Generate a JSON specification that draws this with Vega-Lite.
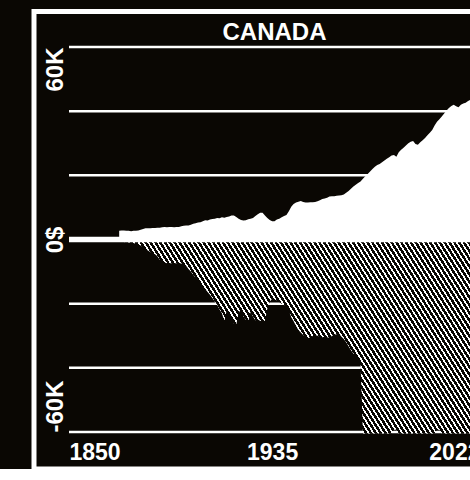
{
  "$schema": "https://vega.github.io/schema/vega-lite/v6.json",
  "autosize": "none",
  "padding": {"left": 34, "top": 11.5, "right": 0, "bottom": 0},
  "width": 481,
  "height": 457.5,
  "background": "#0a0703",
  "title": {"text": "CANADA", "anchor": "middle", "frame": "group", "offset": -28, "dy": 24, "baseline": "alphabetic", "color": "white", "font": "Liberation Sans", "fontSize": 24, "fontWeight": "bold"},
  "config": {"view": {"stroke": "white", "strokeWidth": 5, "fill": "#0a0703"}},
  "datasets": {
    "grid": [{"v": 60000}, {"v": 40000}, {"v": 20000}, {"v": -20000}, {"v": -40000}, {"v": -60000}],
    "series": [
      {"year": 1871, "pos": 2700, "neg": -800},
      {"year": 1872, "pos": 2800, "neg": -800},
      {"year": 1873, "pos": 2800, "neg": -800},
      {"year": 1874, "pos": 2700, "neg": -900},
      {"year": 1875, "pos": 2700, "neg": -900},
      {"year": 1876, "pos": 2600, "neg": -1000},
      {"year": 1877, "pos": 2700, "neg": -1100},
      {"year": 1878, "pos": 2700, "neg": -1400},
      {"year": 1879, "pos": 2800, "neg": -1600},
      {"year": 1880, "pos": 3000, "neg": -1900},
      {"year": 1881, "pos": 3300, "neg": -2400},
      {"year": 1882, "pos": 3500, "neg": -2900},
      {"year": 1883, "pos": 3500, "neg": -3400},
      {"year": 1884, "pos": 3500, "neg": -3900},
      {"year": 1885, "pos": 3600, "neg": -4300},
      {"year": 1886, "pos": 3600, "neg": -4600},
      {"year": 1887, "pos": 3700, "neg": -5200},
      {"year": 1888, "pos": 3700, "neg": -6300},
      {"year": 1889, "pos": 3800, "neg": -6900},
      {"year": 1890, "pos": 3900, "neg": -7200},
      {"year": 1891, "pos": 3800, "neg": -7400},
      {"year": 1892, "pos": 3900, "neg": -7400},
      {"year": 1893, "pos": 3900, "neg": -7400},
      {"year": 1894, "pos": 3800, "neg": -7400},
      {"year": 1895, "pos": 3900, "neg": -7400},
      {"year": 1896, "pos": 3900, "neg": -7400},
      {"year": 1897, "pos": 4100, "neg": -7500},
      {"year": 1898, "pos": 4300, "neg": -7600},
      {"year": 1899, "pos": 4400, "neg": -8200},
      {"year": 1900, "pos": 4400, "neg": -9200},
      {"year": 1901, "pos": 4600, "neg": -10000},
      {"year": 1902, "pos": 4900, "neg": -11000},
      {"year": 1903, "pos": 5100, "neg": -11900},
      {"year": 1904, "pos": 5300, "neg": -12800},
      {"year": 1905, "pos": 5400, "neg": -13700},
      {"year": 1906, "pos": 5700, "neg": -14500},
      {"year": 1907, "pos": 6000, "neg": -15400},
      {"year": 1908, "pos": 5900, "neg": -16400},
      {"year": 1909, "pos": 6200, "neg": -17200},
      {"year": 1910, "pos": 6400, "neg": -18200},
      {"year": 1911, "pos": 6500, "neg": -19300},
      {"year": 1912, "pos": 6700, "neg": -20300},
      {"year": 1913, "pos": 6600, "neg": -21800},
      {"year": 1914, "pos": 6900, "neg": -23000},
      {"year": 1915, "pos": 6800, "neg": -25500},
      {"year": 1916, "pos": 7000, "neg": -22000},
      {"year": 1917, "pos": 7200, "neg": -23500},
      {"year": 1918, "pos": 7500, "neg": -24500},
      {"year": 1919, "pos": 7500, "neg": -26200},
      {"year": 1920, "pos": 7000, "neg": -26600},
      {"year": 1921, "pos": 6500, "neg": -23000},
      {"year": 1922, "pos": 6100, "neg": -21500},
      {"year": 1923, "pos": 5900, "neg": -24000},
      {"year": 1924, "pos": 6000, "neg": -25000},
      {"year": 1925, "pos": 6300, "neg": -25600},
      {"year": 1926, "pos": 6500, "neg": -22500},
      {"year": 1927, "pos": 6700, "neg": -24000},
      {"year": 1928, "pos": 7300, "neg": -25200},
      {"year": 1929, "pos": 7900, "neg": -25000},
      {"year": 1930, "pos": 8300, "neg": -25300},
      {"year": 1931, "pos": 8300, "neg": -25600},
      {"year": 1932, "pos": 7500, "neg": -25300},
      {"year": 1933, "pos": 6700, "neg": -21500},
      {"year": 1934, "pos": 6100, "neg": -19400},
      {"year": 1935, "pos": 5700, "neg": -18500},
      {"year": 1936, "pos": 5700, "neg": -18800},
      {"year": 1937, "pos": 6200, "neg": -18900},
      {"year": 1938, "pos": 6500, "neg": -19500},
      {"year": 1939, "pos": 6900, "neg": -20000},
      {"year": 1940, "pos": 7300, "neg": -20400},
      {"year": 1941, "pos": 7600, "neg": -20600},
      {"year": 1942, "pos": 8800, "neg": -22000},
      {"year": 1943, "pos": 10200, "neg": -24200},
      {"year": 1944, "pos": 11100, "neg": -25500},
      {"year": 1945, "pos": 11500, "neg": -27000},
      {"year": 1946, "pos": 11800, "neg": -28200},
      {"year": 1947, "pos": 12000, "neg": -29000},
      {"year": 1948, "pos": 11700, "neg": -29800},
      {"year": 1949, "pos": 11500, "neg": -30300},
      {"year": 1950, "pos": 11500, "neg": -30800},
      {"year": 1951, "pos": 11600, "neg": -30500},
      {"year": 1952, "pos": 11600, "neg": -30100},
      {"year": 1953, "pos": 11700, "neg": -29800},
      {"year": 1954, "pos": 11900, "neg": -30000},
      {"year": 1955, "pos": 12200, "neg": -30300},
      {"year": 1956, "pos": 12600, "neg": -30500},
      {"year": 1957, "pos": 12800, "neg": -30300},
      {"year": 1958, "pos": 13000, "neg": -30500},
      {"year": 1959, "pos": 13400, "neg": -30600},
      {"year": 1960, "pos": 13500, "neg": -30100},
      {"year": 1961, "pos": 13500, "neg": -29700},
      {"year": 1962, "pos": 13600, "neg": -29500},
      {"year": 1963, "pos": 13700, "neg": -29300},
      {"year": 1964, "pos": 13800, "neg": -30300},
      {"year": 1965, "pos": 14000, "neg": -31000},
      {"year": 1966, "pos": 14600, "neg": -32000},
      {"year": 1967, "pos": 15100, "neg": -33300},
      {"year": 1968, "pos": 15800, "neg": -34500},
      {"year": 1969, "pos": 16500, "neg": -35500},
      {"year": 1970, "pos": 17100, "neg": -36200},
      {"year": 1971, "pos": 17600, "neg": -37200},
      {"year": 1972, "pos": 18100, "neg": -38300},
      {"year": 1973, "pos": 18900, "neg": -60500},
      {"year": 1974, "pos": 19700, "neg": -60500},
      {"year": 1975, "pos": 20400, "neg": -60500},
      {"year": 1976, "pos": 21200, "neg": -60500},
      {"year": 1977, "pos": 22000, "neg": -60500},
      {"year": 1978, "pos": 22700, "neg": -60500},
      {"year": 1979, "pos": 23200, "neg": -60500},
      {"year": 1980, "pos": 23500, "neg": -60500},
      {"year": 1981, "pos": 24100, "neg": -60500},
      {"year": 1982, "pos": 24600, "neg": -60500},
      {"year": 1983, "pos": 25200, "neg": -60500},
      {"year": 1984, "pos": 25600, "neg": -60500},
      {"year": 1985, "pos": 26200, "neg": -60500},
      {"year": 1986, "pos": 26300, "neg": -59300},
      {"year": 1987, "pos": 25800, "neg": -59300},
      {"year": 1988, "pos": 27200, "neg": -60500},
      {"year": 1989, "pos": 28000, "neg": -60500},
      {"year": 1990, "pos": 28600, "neg": -60500},
      {"year": 1991, "pos": 29300, "neg": -60500},
      {"year": 1992, "pos": 30000, "neg": -60500},
      {"year": 1993, "pos": 30500, "neg": -60500},
      {"year": 1994, "pos": 30700, "neg": -60500},
      {"year": 1995, "pos": 29800, "neg": -60500},
      {"year": 1996, "pos": 29500, "neg": -60500},
      {"year": 1997, "pos": 30300, "neg": -60500},
      {"year": 1998, "pos": 30900, "neg": -60500},
      {"year": 1999, "pos": 31600, "neg": -60500},
      {"year": 2000, "pos": 32500, "neg": -60500},
      {"year": 2001, "pos": 33300, "neg": -60500},
      {"year": 2002, "pos": 34100, "neg": -60500},
      {"year": 2003, "pos": 35500, "neg": -60500},
      {"year": 2004, "pos": 36700, "neg": -59300},
      {"year": 2005, "pos": 37500, "neg": -59300},
      {"year": 2006, "pos": 38300, "neg": -60500},
      {"year": 2007, "pos": 39300, "neg": -60500},
      {"year": 2008, "pos": 40200, "neg": -60500},
      {"year": 2009, "pos": 41000, "neg": -60500},
      {"year": 2010, "pos": 41600, "neg": -60500},
      {"year": 2011, "pos": 42000, "neg": -60500},
      {"year": 2012, "pos": 41500, "neg": -60500},
      {"year": 2013, "pos": 41200, "neg": -60500},
      {"year": 2014, "pos": 42000, "neg": -60500},
      {"year": 2015, "pos": 42400, "neg": -60500},
      {"year": 2016, "pos": 42600, "neg": -60500},
      {"year": 2017, "pos": 43200, "neg": -60500},
      {"year": 2018, "pos": 43500, "neg": -60500},
      {"year": 2019, "pos": 44000, "neg": -60500},
      {"year": 2020, "pos": 42000, "neg": -60500},
      {"year": 2021, "pos": 44500, "neg": -60500},
      {"year": 2022, "pos": 46000, "neg": -60500}
    ]
  },
  "encoding": {
    "x": {
      "type": "quantitative",
      "scale": {"domain": [1835.353, 2036.647], "nice": false, "zero": false},
      "axis": {
        "title": null, "orient": "bottom", "domain": false, "ticks": false, "tickSize": 0, "grid": false,
        "values": [1850, 1935, 2022], "format": "d",
        "labelAlign": {"expr": "datum.value == 1850 ? 'left' : (datum.value == 2022 ? 'right' : 'center')"},
        "labelBaseline": "alphabetic", "labelPadding": -9.7, "labelFlush": false, "labelOverlap": false,
        "labelColor": "white", "labelFont": "Liberation Sans", "labelFontSize": 23, "labelFontWeight": "bold"
      }
    },
    "y": {
      "type": "quantitative",
      "scale": {"domain": [-71533, 71065], "nice": false, "zero": false},
      "axis": {
        "title": null, "orient": "left", "domain": false, "ticks": false, "tickSize": 0, "grid": false,
        "values": [-60000, 0, 60000],
        "labelExpr": "datum.value == 0 ? '0$' : (datum.value > 0 ? '60K' : '-60K')",
        "labelAngle": 270,
        "labelAlign": {"expr": "datum.value > 0 ? 'right' : (datum.value < 0 ? 'left' : 'center')"},
        "labelBaseline": "alphabetic", "labelPadding": -28.3, "labelOverlap": false, "labelFlush": false,
        "labelColor": "white", "labelFont": "Liberation Sans", "labelFontSize": 24, "labelFontWeight": "bold"
      }
    }
  },
  "layer": [
    {
      "data": {"name": "grid"},
      "mark": {"type": "rule", "color": "white", "strokeWidth": 2.5},
      "encoding": {"x": {"datum": 1850}, "x2": {"datum": 2022}, "y": {"field": "v"}}
    },
    {
      "data": {"name": "series"},
      "mark": {"type": "area", "color": "white", "interpolate": "linear"},
      "encoding": {"x": {"field": "year"}, "y": {"field": "pos"}, "y2": {"datum": 0}}
    },
    {
      "data": {"name": "series"},
      "mark": {"type": "area", "interpolate": "linear", "stroke": null, "fill": {"gradient": "linear", "x1": 0, "y1": 1, "x2": 1.2005, "y2": 0.59637, "stops": [
        {"offset":0,"color":"#0a0703"},{"offset":0.006,"color":"#0a0703"},{"offset":0.006,"color":"#fff"},{"offset":0.01,"color":"#fff"},
        {"offset":0.01,"color":"#0a0703"},{"offset":0.016,"color":"#0a0703"},{"offset":0.016,"color":"#fff"},{"offset":0.02,"color":"#fff"},
        {"offset":0.02,"color":"#0a0703"},{"offset":0.026,"color":"#0a0703"},{"offset":0.026,"color":"#fff"},{"offset":0.03,"color":"#fff"},
        {"offset":0.03,"color":"#0a0703"},{"offset":0.036,"color":"#0a0703"},{"offset":0.036,"color":"#fff"},{"offset":0.04,"color":"#fff"},
        {"offset":0.04,"color":"#0a0703"},{"offset":0.046,"color":"#0a0703"},{"offset":0.046,"color":"#fff"},{"offset":0.05,"color":"#fff"},
        {"offset":0.05,"color":"#0a0703"},{"offset":0.056,"color":"#0a0703"},{"offset":0.056,"color":"#fff"},{"offset":0.06,"color":"#fff"},
        {"offset":0.06,"color":"#0a0703"},{"offset":0.066,"color":"#0a0703"},{"offset":0.066,"color":"#fff"},{"offset":0.07,"color":"#fff"},
        {"offset":0.07,"color":"#0a0703"},{"offset":0.076,"color":"#0a0703"},{"offset":0.076,"color":"#fff"},{"offset":0.08,"color":"#fff"},
        {"offset":0.08,"color":"#0a0703"},{"offset":0.086,"color":"#0a0703"},{"offset":0.086,"color":"#fff"},{"offset":0.09,"color":"#fff"},
        {"offset":0.09,"color":"#0a0703"},{"offset":0.096,"color":"#0a0703"},{"offset":0.096,"color":"#fff"},{"offset":0.10,"color":"#fff"},
        {"offset":0.10,"color":"#0a0703"},{"offset":0.106,"color":"#0a0703"},{"offset":0.106,"color":"#fff"},{"offset":0.11,"color":"#fff"},
        {"offset":0.11,"color":"#0a0703"},{"offset":0.116,"color":"#0a0703"},{"offset":0.116,"color":"#fff"},{"offset":0.12,"color":"#fff"},
        {"offset":0.12,"color":"#0a0703"},{"offset":0.126,"color":"#0a0703"},{"offset":0.126,"color":"#fff"},{"offset":0.13,"color":"#fff"},
        {"offset":0.13,"color":"#0a0703"},{"offset":0.136,"color":"#0a0703"},{"offset":0.136,"color":"#fff"},{"offset":0.14,"color":"#fff"},
        {"offset":0.14,"color":"#0a0703"},{"offset":0.146,"color":"#0a0703"},{"offset":0.146,"color":"#fff"},{"offset":0.15,"color":"#fff"},
        {"offset":0.15,"color":"#0a0703"},{"offset":0.156,"color":"#0a0703"},{"offset":0.156,"color":"#fff"},{"offset":0.16,"color":"#fff"},
        {"offset":0.16,"color":"#0a0703"},{"offset":0.166,"color":"#0a0703"},{"offset":0.166,"color":"#fff"},{"offset":0.17,"color":"#fff"},
        {"offset":0.17,"color":"#0a0703"},{"offset":0.176,"color":"#0a0703"},{"offset":0.176,"color":"#fff"},{"offset":0.18,"color":"#fff"},
        {"offset":0.18,"color":"#0a0703"},{"offset":0.186,"color":"#0a0703"},{"offset":0.186,"color":"#fff"},{"offset":0.19,"color":"#fff"},
        {"offset":0.19,"color":"#0a0703"},{"offset":0.196,"color":"#0a0703"},{"offset":0.196,"color":"#fff"},{"offset":0.20,"color":"#fff"},
        {"offset":0.20,"color":"#0a0703"},{"offset":0.206,"color":"#0a0703"},{"offset":0.206,"color":"#fff"},{"offset":0.21,"color":"#fff"},
        {"offset":0.21,"color":"#0a0703"},{"offset":0.216,"color":"#0a0703"},{"offset":0.216,"color":"#fff"},{"offset":0.22,"color":"#fff"},
        {"offset":0.22,"color":"#0a0703"},{"offset":0.226,"color":"#0a0703"},{"offset":0.226,"color":"#fff"},{"offset":0.23,"color":"#fff"},
        {"offset":0.23,"color":"#0a0703"},{"offset":0.236,"color":"#0a0703"},{"offset":0.236,"color":"#fff"},{"offset":0.24,"color":"#fff"},
        {"offset":0.24,"color":"#0a0703"},{"offset":0.246,"color":"#0a0703"},{"offset":0.246,"color":"#fff"},{"offset":0.25,"color":"#fff"},
        {"offset":0.25,"color":"#0a0703"},{"offset":0.256,"color":"#0a0703"},{"offset":0.256,"color":"#fff"},{"offset":0.26,"color":"#fff"},
        {"offset":0.26,"color":"#0a0703"},{"offset":0.266,"color":"#0a0703"},{"offset":0.266,"color":"#fff"},{"offset":0.27,"color":"#fff"},
        {"offset":0.27,"color":"#0a0703"},{"offset":0.276,"color":"#0a0703"},{"offset":0.276,"color":"#fff"},{"offset":0.28,"color":"#fff"},
        {"offset":0.28,"color":"#0a0703"},{"offset":0.286,"color":"#0a0703"},{"offset":0.286,"color":"#fff"},{"offset":0.29,"color":"#fff"},
        {"offset":0.29,"color":"#0a0703"},{"offset":0.296,"color":"#0a0703"},{"offset":0.296,"color":"#fff"},{"offset":0.30,"color":"#fff"},
        {"offset":0.30,"color":"#0a0703"},{"offset":0.306,"color":"#0a0703"},{"offset":0.306,"color":"#fff"},{"offset":0.31,"color":"#fff"},
        {"offset":0.31,"color":"#0a0703"},{"offset":0.316,"color":"#0a0703"},{"offset":0.316,"color":"#fff"},{"offset":0.32,"color":"#fff"},
        {"offset":0.32,"color":"#0a0703"},{"offset":0.326,"color":"#0a0703"},{"offset":0.326,"color":"#fff"},{"offset":0.33,"color":"#fff"},
        {"offset":0.33,"color":"#0a0703"},{"offset":0.336,"color":"#0a0703"},{"offset":0.336,"color":"#fff"},{"offset":0.34,"color":"#fff"},
        {"offset":0.34,"color":"#0a0703"},{"offset":0.346,"color":"#0a0703"},{"offset":0.346,"color":"#fff"},{"offset":0.35,"color":"#fff"},
        {"offset":0.35,"color":"#0a0703"},{"offset":0.356,"color":"#0a0703"},{"offset":0.356,"color":"#fff"},{"offset":0.36,"color":"#fff"},
        {"offset":0.36,"color":"#0a0703"},{"offset":0.366,"color":"#0a0703"},{"offset":0.366,"color":"#fff"},{"offset":0.37,"color":"#fff"},
        {"offset":0.37,"color":"#0a0703"},{"offset":0.376,"color":"#0a0703"},{"offset":0.376,"color":"#fff"},{"offset":0.38,"color":"#fff"},
        {"offset":0.38,"color":"#0a0703"},{"offset":0.386,"color":"#0a0703"},{"offset":0.386,"color":"#fff"},{"offset":0.39,"color":"#fff"},
        {"offset":0.39,"color":"#0a0703"},{"offset":0.396,"color":"#0a0703"},{"offset":0.396,"color":"#fff"},{"offset":0.40,"color":"#fff"},
        {"offset":0.40,"color":"#0a0703"},{"offset":0.406,"color":"#0a0703"},{"offset":0.406,"color":"#fff"},{"offset":0.41,"color":"#fff"},
        {"offset":0.41,"color":"#0a0703"},{"offset":0.416,"color":"#0a0703"},{"offset":0.416,"color":"#fff"},{"offset":0.42,"color":"#fff"},
        {"offset":0.42,"color":"#0a0703"},{"offset":0.426,"color":"#0a0703"},{"offset":0.426,"color":"#fff"},{"offset":0.43,"color":"#fff"},
        {"offset":0.43,"color":"#0a0703"},{"offset":0.436,"color":"#0a0703"},{"offset":0.436,"color":"#fff"},{"offset":0.44,"color":"#fff"},
        {"offset":0.44,"color":"#0a0703"},{"offset":0.446,"color":"#0a0703"},{"offset":0.446,"color":"#fff"},{"offset":0.45,"color":"#fff"},
        {"offset":0.45,"color":"#0a0703"},{"offset":0.456,"color":"#0a0703"},{"offset":0.456,"color":"#fff"},{"offset":0.46,"color":"#fff"},
        {"offset":0.46,"color":"#0a0703"},{"offset":0.466,"color":"#0a0703"},{"offset":0.466,"color":"#fff"},{"offset":0.47,"color":"#fff"},
        {"offset":0.47,"color":"#0a0703"},{"offset":0.476,"color":"#0a0703"},{"offset":0.476,"color":"#fff"},{"offset":0.48,"color":"#fff"},
        {"offset":0.48,"color":"#0a0703"},{"offset":0.486,"color":"#0a0703"},{"offset":0.486,"color":"#fff"},{"offset":0.49,"color":"#fff"},
        {"offset":0.49,"color":"#0a0703"},{"offset":0.496,"color":"#0a0703"},{"offset":0.496,"color":"#fff"},{"offset":0.50,"color":"#fff"},
        {"offset":0.50,"color":"#0a0703"},{"offset":0.506,"color":"#0a0703"},{"offset":0.506,"color":"#fff"},{"offset":0.51,"color":"#fff"},
        {"offset":0.51,"color":"#0a0703"},{"offset":0.516,"color":"#0a0703"},{"offset":0.516,"color":"#fff"},{"offset":0.52,"color":"#fff"},
        {"offset":0.52,"color":"#0a0703"},{"offset":0.526,"color":"#0a0703"},{"offset":0.526,"color":"#fff"},{"offset":0.53,"color":"#fff"},
        {"offset":0.53,"color":"#0a0703"},{"offset":0.536,"color":"#0a0703"},{"offset":0.536,"color":"#fff"},{"offset":0.54,"color":"#fff"},
        {"offset":0.54,"color":"#0a0703"},{"offset":0.546,"color":"#0a0703"},{"offset":0.546,"color":"#fff"},{"offset":0.55,"color":"#fff"},
        {"offset":0.55,"color":"#0a0703"},{"offset":0.556,"color":"#0a0703"},{"offset":0.556,"color":"#fff"},{"offset":0.56,"color":"#fff"},
        {"offset":0.56,"color":"#0a0703"},{"offset":0.566,"color":"#0a0703"},{"offset":0.566,"color":"#fff"},{"offset":0.57,"color":"#fff"},
        {"offset":0.57,"color":"#0a0703"},{"offset":0.576,"color":"#0a0703"},{"offset":0.576,"color":"#fff"},{"offset":0.58,"color":"#fff"},
        {"offset":0.58,"color":"#0a0703"},{"offset":0.586,"color":"#0a0703"},{"offset":0.586,"color":"#fff"},{"offset":0.59,"color":"#fff"},
        {"offset":0.59,"color":"#0a0703"},{"offset":0.596,"color":"#0a0703"},{"offset":0.596,"color":"#fff"},{"offset":0.60,"color":"#fff"},
        {"offset":0.60,"color":"#0a0703"},{"offset":0.606,"color":"#0a0703"},{"offset":0.606,"color":"#fff"},{"offset":0.61,"color":"#fff"},
        {"offset":0.61,"color":"#0a0703"},{"offset":0.616,"color":"#0a0703"},{"offset":0.616,"color":"#fff"},{"offset":0.62,"color":"#fff"},
        {"offset":0.62,"color":"#0a0703"},{"offset":0.626,"color":"#0a0703"},{"offset":0.626,"color":"#fff"},{"offset":0.63,"color":"#fff"},
        {"offset":0.63,"color":"#0a0703"},{"offset":0.636,"color":"#0a0703"},{"offset":0.636,"color":"#fff"},{"offset":0.64,"color":"#fff"},
        {"offset":0.64,"color":"#0a0703"},{"offset":0.646,"color":"#0a0703"},{"offset":0.646,"color":"#fff"},{"offset":0.65,"color":"#fff"},
        {"offset":0.65,"color":"#0a0703"},{"offset":0.656,"color":"#0a0703"},{"offset":0.656,"color":"#fff"},{"offset":0.66,"color":"#fff"},
        {"offset":0.66,"color":"#0a0703"},{"offset":0.666,"color":"#0a0703"},{"offset":0.666,"color":"#fff"},{"offset":0.67,"color":"#fff"},
        {"offset":0.67,"color":"#0a0703"},{"offset":0.676,"color":"#0a0703"},{"offset":0.676,"color":"#fff"},{"offset":0.68,"color":"#fff"},
        {"offset":0.68,"color":"#0a0703"},{"offset":0.686,"color":"#0a0703"},{"offset":0.686,"color":"#fff"},{"offset":0.69,"color":"#fff"},
        {"offset":0.69,"color":"#0a0703"},{"offset":0.696,"color":"#0a0703"},{"offset":0.696,"color":"#fff"},{"offset":0.70,"color":"#fff"},
        {"offset":0.70,"color":"#0a0703"},{"offset":0.706,"color":"#0a0703"},{"offset":0.706,"color":"#fff"},{"offset":0.71,"color":"#fff"},
        {"offset":0.71,"color":"#0a0703"},{"offset":0.716,"color":"#0a0703"},{"offset":0.716,"color":"#fff"},{"offset":0.72,"color":"#fff"},
        {"offset":0.72,"color":"#0a0703"},{"offset":0.726,"color":"#0a0703"},{"offset":0.726,"color":"#fff"},{"offset":0.73,"color":"#fff"},
        {"offset":0.73,"color":"#0a0703"},{"offset":0.736,"color":"#0a0703"},{"offset":0.736,"color":"#fff"},{"offset":0.74,"color":"#fff"},
        {"offset":0.74,"color":"#0a0703"},{"offset":0.746,"color":"#0a0703"},{"offset":0.746,"color":"#fff"},{"offset":0.75,"color":"#fff"},
        {"offset":0.75,"color":"#0a0703"},{"offset":0.756,"color":"#0a0703"},{"offset":0.756,"color":"#fff"},{"offset":0.76,"color":"#fff"},
        {"offset":0.76,"color":"#0a0703"},{"offset":0.766,"color":"#0a0703"},{"offset":0.766,"color":"#fff"},{"offset":0.77,"color":"#fff"},
        {"offset":0.77,"color":"#0a0703"},{"offset":0.776,"color":"#0a0703"},{"offset":0.776,"color":"#fff"},{"offset":0.78,"color":"#fff"},
        {"offset":0.78,"color":"#0a0703"},{"offset":0.786,"color":"#0a0703"},{"offset":0.786,"color":"#fff"},{"offset":0.79,"color":"#fff"},
        {"offset":0.79,"color":"#0a0703"},{"offset":0.796,"color":"#0a0703"},{"offset":0.796,"color":"#fff"},{"offset":0.80,"color":"#fff"},
        {"offset":0.80,"color":"#0a0703"},{"offset":0.806,"color":"#0a0703"},{"offset":0.806,"color":"#fff"},{"offset":0.81,"color":"#fff"},
        {"offset":0.81,"color":"#0a0703"},{"offset":0.816,"color":"#0a0703"},{"offset":0.816,"color":"#fff"},{"offset":0.82,"color":"#fff"},
        {"offset":0.82,"color":"#0a0703"},{"offset":0.826,"color":"#0a0703"},{"offset":0.826,"color":"#fff"},{"offset":0.83,"color":"#fff"},
        {"offset":0.83,"color":"#0a0703"},{"offset":0.836,"color":"#0a0703"},{"offset":0.836,"color":"#fff"},{"offset":0.84,"color":"#fff"},
        {"offset":0.84,"color":"#0a0703"},{"offset":0.846,"color":"#0a0703"},{"offset":0.846,"color":"#fff"},{"offset":0.85,"color":"#fff"},
        {"offset":0.85,"color":"#0a0703"},{"offset":0.856,"color":"#0a0703"},{"offset":0.856,"color":"#fff"},{"offset":0.86,"color":"#fff"},
        {"offset":0.86,"color":"#0a0703"},{"offset":0.866,"color":"#0a0703"},{"offset":0.866,"color":"#fff"},{"offset":0.87,"color":"#fff"},
        {"offset":0.87,"color":"#0a0703"},{"offset":0.876,"color":"#0a0703"},{"offset":0.876,"color":"#fff"},{"offset":0.88,"color":"#fff"},
        {"offset":0.88,"color":"#0a0703"},{"offset":0.886,"color":"#0a0703"},{"offset":0.886,"color":"#fff"},{"offset":0.89,"color":"#fff"},
        {"offset":0.89,"color":"#0a0703"},{"offset":0.896,"color":"#0a0703"},{"offset":0.896,"color":"#fff"},{"offset":0.90,"color":"#fff"},
        {"offset":0.90,"color":"#0a0703"},{"offset":0.906,"color":"#0a0703"},{"offset":0.906,"color":"#fff"},{"offset":0.91,"color":"#fff"},
        {"offset":0.91,"color":"#0a0703"},{"offset":0.916,"color":"#0a0703"},{"offset":0.916,"color":"#fff"},{"offset":0.92,"color":"#fff"},
        {"offset":0.92,"color":"#0a0703"},{"offset":0.926,"color":"#0a0703"},{"offset":0.926,"color":"#fff"},{"offset":0.93,"color":"#fff"},
        {"offset":0.93,"color":"#0a0703"},{"offset":0.936,"color":"#0a0703"},{"offset":0.936,"color":"#fff"},{"offset":0.94,"color":"#fff"},
        {"offset":0.94,"color":"#0a0703"},{"offset":0.946,"color":"#0a0703"},{"offset":0.946,"color":"#fff"},{"offset":0.95,"color":"#fff"},
        {"offset":0.95,"color":"#0a0703"},{"offset":0.956,"color":"#0a0703"},{"offset":0.956,"color":"#fff"},{"offset":0.96,"color":"#fff"},
        {"offset":0.96,"color":"#0a0703"},{"offset":0.966,"color":"#0a0703"},{"offset":0.966,"color":"#fff"},{"offset":0.97,"color":"#fff"},
        {"offset":0.97,"color":"#0a0703"},{"offset":0.976,"color":"#0a0703"},{"offset":0.976,"color":"#fff"},{"offset":0.98,"color":"#fff"},
        {"offset":0.98,"color":"#0a0703"},{"offset":0.986,"color":"#0a0703"},{"offset":0.986,"color":"#fff"},{"offset":0.99,"color":"#fff"},
        {"offset":0.99,"color":"#0a0703"},{"offset":0.996,"color":"#0a0703"},{"offset":0.996,"color":"#fff"},{"offset":1,"color":"#fff"}
      ]}},
      "encoding": {"x": {"field": "year"}, "y": {"field": "neg"}, "y2": {"datum": 0}}
    },
    {
      "data": {"values": [{"v": 0}]},
      "mark": {"type": "rule", "color": "white", "strokeWidth": 5.5},
      "encoding": {"x": {"datum": 1850}, "x2": {"datum": 2022}, "y": {"field": "v"}}
    }
  ]
}
